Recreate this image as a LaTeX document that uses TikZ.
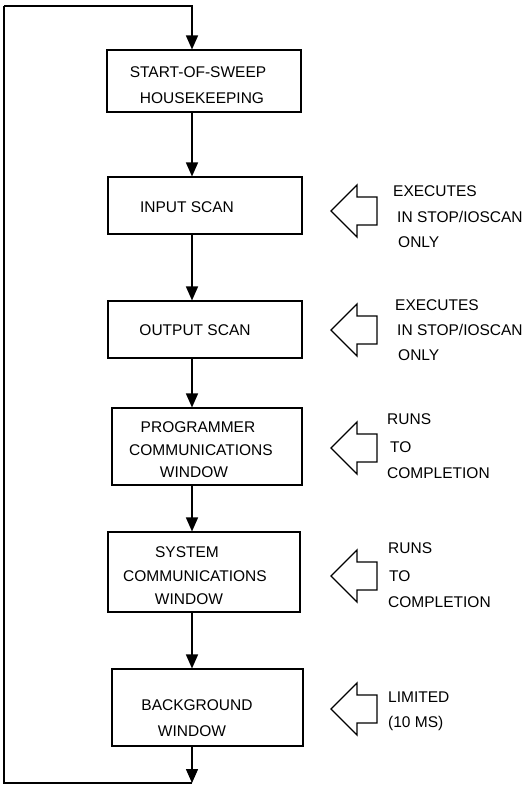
\documentclass[tikz,border=0pt]{standalone}
\usepackage{fontspec}
\setmainfont{Liberation Sans}
\usetikzlibrary{arrows.meta}
\newcommand\lblfont{\fontsize{15.5}{18}\selectfont}
\begin{document}
\begin{tikzpicture}[x=1pt,y=-1pt,
  box/.style={draw, line width=1.1pt, inner sep=0pt, rectangle},
  conn/.style={line width=1.5pt, -{Triangle[width=12pt,length=14pt]}},
  loopline/.style={line width=1.5pt},
  lbl/.style={font=\lblfont, inner sep=0pt, anchor=base},
  rlbl/.style={font=\lblfont, inner sep=0pt, anchor=base west},
  blockarrow/.pic={\draw[line width=1.3pt, line join=miter]
     (0,0) -- (26,-26) -- (26,-14) -- (46,-14) -- (46,14) -- (26,14) -- (26,26) -- cycle;}
]
\useasboundingbox (0,0) rectangle (528,786);

% boxes
\node[box, minimum width=194pt, minimum height=62pt] (b1) at (204,81) {};
\node[box, minimum width=194pt, minimum height=57pt] (b2) at (205,205.5) {};
\node[box, minimum width=194pt, minimum height=57pt] (b3) at (205,329.5) {};
\node[box, minimum width=190pt, minimum height=77pt] (b4) at (207,446.5) {};
\node[box, minimum width=192pt, minimum height=80pt] (b5) at (204,572) {};
\node[box, minimum width=191pt, minimum height=77pt] (b6) at (207.5,707.5) {};

% box texts
\node[lbl] (t1a) at (198,77.5) {START-OF-SWEEP};
\node[lbl] (t1b) at (202,103.5) {HOUSEKEEPING};
\node[lbl] (t2) at (187,212.5) {INPUT SCAN};
\node[lbl] (t3) at (195,335.5) {OUTPUT SCAN};
\node[lbl] (t4a) at (198,432.5) {PROGRAMMER};
\node[lbl] (t4b) at (201,455.5) {COMMUNICATIONS};
\node[lbl] (t4c) at (194,477.5) {WINDOW};
\node[lbl] (t5a) at (187,557.5) {SYSTEM};
\node[lbl] (t5b) at (195,581.5) {COMMUNICATIONS};
\node[lbl] (t5c) at (189,604.5) {WINDOW};
\node[lbl] (t6a) at (197,710.5) {BACKGROUND};
\node[lbl] (t6b) at (192,736.5) {WINDOW};

% loop coordinates
\coordinate (tl) at (4,6);
\coordinate (tr) at (192,6);
\coordinate (bl) at (4,783);
\coordinate (br) at (192,783);

% connectors
\draw[conn] (tl) -- (tr) -- (b1.north -| tr);
\draw[conn] (b1.south -| tr) -- (b2.north -| tr);
\draw[conn] (b2.south -| tr) -- (b3.north -| tr);
\draw[conn] (b3.south -| tr) -- (b4.north -| tr);
\draw[conn] (b4.south -| tr) -- (b5.north -| tr);
\draw[conn] (b5.south -| tr) -- (b6.north -| tr);
\draw[conn] (b6.south -| tr) -- (br);
\draw[loopline, line join=miter] (br) -- (bl) -- (tl);

% block arrows
\pic at (331,211) {blockarrow};
\pic at (331,330) {blockarrow};
\pic at (331,448) {blockarrow};
\pic at (331,576) {blockarrow};
\pic at (331,709) {blockarrow};

% right texts
\node[rlbl] (r1a) at (393,196.5) {EXECUTES};
\node[rlbl] (r1b) at (397,222.5) {IN STOP/IOSCAN};
\node[rlbl] (r1c) at (398,247.5) {ONLY};
\node[rlbl] (r2a) at (395,310.5) {EXECUTES};
\node[rlbl] (r2b) at (397,335.5) {IN STOP/IOSCAN};
\node[rlbl] (r2c) at (398,360.5) {ONLY};
\node[rlbl] (r3a) at (387,424.5) {RUNS};
\node[rlbl] (r3b) at (390,452.5) {TO};
\node[rlbl] (r3c) at (387,478.5) {COMPLETION};
\node[rlbl] (r4a) at (388,553.5) {RUNS};
\node[rlbl] (r4b) at (389,581.5) {TO};
\node[rlbl] (r4c) at (388,607.5) {COMPLETION};
\node[rlbl] (r5a) at (388,702.5) {LIMITED};
\node[rlbl] (r5b) at (388,727.5) {(10 MS)};
\end{tikzpicture}
\end{document}
